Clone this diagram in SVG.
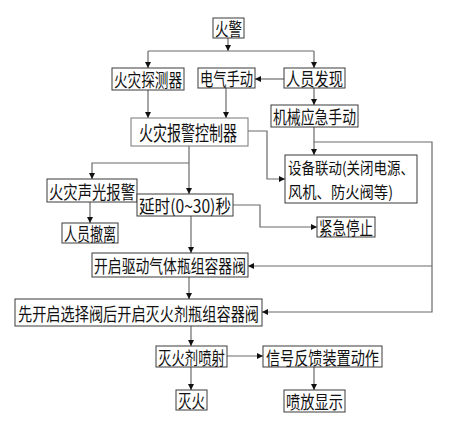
<svg xmlns="http://www.w3.org/2000/svg" width="463" height="426" viewBox="0 0 463 426">
<style>
.b{fill:#fff;stroke:#3a3a3a;stroke-width:1}
.g{fill:#fff;stroke:#777;stroke-width:1}
.t{font-family:"Noto Sans CJK SC","Noto Sans CJK JP",sans-serif;font-size:18px;fill:#111;dominant-baseline:central}
.s{font-size:16px}
.l{font-size:20px}
.c{fill:none;stroke:#6a6a6a;stroke-width:1.2}
</style>
<defs>
<marker id="a" markerUnits="userSpaceOnUse" markerWidth="8" markerHeight="8" refX="6" refY="3" orient="auto">
<path d="M0,0 L6,3 L0,6 Z" fill="#111"/>
</marker>
</defs>
<rect width="463" height="426" fill="#fff"/>
<g id="connectors">
<path class="c" d="M228,38 V51" marker-end="url(#a)"/>
<path class="c" d="M148,51 H314"/>
<path class="c" d="M148,51 V68" marker-end="url(#a)"/>
<path class="c" d="M314,51 V68" marker-end="url(#a)"/>
<path class="c" d="M284,79 H255" marker-end="url(#a)"/>
<path class="c" d="M314,88 V105" marker-end="url(#a)"/>
<path class="c" d="M148,90 V118" marker-end="url(#a)"/>
<path class="c" d="M226,88 V118" marker-end="url(#a)"/>
<path class="c" d="M248,131 H267 V179 H285" marker-end="url(#a)"/>
<path class="c" d="M314,127 V155" marker-end="url(#a)"/>
<path class="c" d="M314,142 H432 V312 H262" marker-end="url(#a)"/>
<path class="c" d="M432,266 H248" marker-end="url(#a)"/>
<path class="c" d="M189,146 V194" marker-end="url(#a)"/>
<path class="c" d="M189,163 H92 V179" marker-end="url(#a)"/>
<path class="c" d="M90,202 V223" marker-end="url(#a)"/>
<path class="c" d="M233,205 H260 V227 H317" marker-end="url(#a)"/>
<path class="c" d="M191,216 V253" marker-end="url(#a)"/>
<path class="c" d="M189,277 V299" marker-end="url(#a)"/>
<path class="c" d="M191,326 V346" marker-end="url(#a)"/>
<path class="c" d="M227,356 H263" marker-end="url(#a)"/>
<path class="c" d="M191,367 V390" marker-end="url(#a)"/>
<path class="c" d="M314,367 V390" marker-end="url(#a)"/>
</g>
<g id="n1"><rect class="b" x="213" y="18" width="31" height="20"/><text class="t" x="215" y="28" textLength="27" lengthAdjust="spacingAndGlyphs">火警</text></g>
<g id="n2"><rect class="b" x="112" y="68" width="72" height="22"/><text class="t" x="114" y="79" textLength="68" lengthAdjust="spacingAndGlyphs">火灾探测器</text></g>
<g id="n3"><rect class="b" x="198" y="68" width="57" height="20"/><text class="t" x="200" y="78" textLength="53" lengthAdjust="spacingAndGlyphs">电气手动</text></g>
<g id="n4"><rect class="b" x="284" y="68" width="61" height="20"/><text class="t" x="286" y="78" textLength="57" lengthAdjust="spacingAndGlyphs">人员发现</text></g>
<g id="n5"><rect class="b" x="271" y="105" width="87" height="22"/><text class="t" x="273" y="116" textLength="83" lengthAdjust="spacingAndGlyphs">机械应急手动</text></g>
<g id="n6"><rect class="g" x="131" y="118" width="117" height="28"/><text class="t l" x="139" y="132" textLength="98" lengthAdjust="spacingAndGlyphs">火灾报警控制器</text></g>
<g id="n7"><rect class="b" x="285" y="155" width="132" height="48"/><text class="t s" x="288" y="166.5" textLength="126" lengthAdjust="spacingAndGlyphs">设备联动(关闭电源、</text><text class="t s" x="288" y="191" textLength="105" lengthAdjust="spacingAndGlyphs">风机、防火阀等)</text></g>
<g id="n8"><rect class="b" x="47" y="179" width="90" height="23"/><text class="t" x="49" y="190.5" textLength="86" lengthAdjust="spacingAndGlyphs">火灾声光报警</text></g>
<g id="n9"><rect class="b" x="137" y="194" width="96" height="22"/><text class="t" x="139" y="205" textLength="92" lengthAdjust="spacingAndGlyphs">延时(0~30)秒</text></g>
<g id="n10"><rect class="b" x="317" y="217" width="58" height="20"/><text class="t" x="319" y="227" textLength="54" lengthAdjust="spacingAndGlyphs">紧急停止</text></g>
<g id="n11"><rect class="b" x="62" y="223" width="56" height="20"/><text class="t" x="64" y="233" textLength="52" lengthAdjust="spacingAndGlyphs">人员撤离</text></g>
<g id="n12"><rect class="b" x="92" y="253" width="156" height="24"/><text class="t" x="94" y="265" textLength="152" lengthAdjust="spacingAndGlyphs">开启驱动气体瓶组容器阀</text></g>
<g id="n13"><rect class="b" x="15" y="299" width="247" height="27"/><text class="t" x="18" y="312.5" textLength="241" lengthAdjust="spacingAndGlyphs">先开启选择阀后开启灭火剂瓶组容器阀</text></g>
<g id="n14"><rect class="b" x="156" y="346" width="71" height="21"/><text class="t" x="158" y="356.5" textLength="67" lengthAdjust="spacingAndGlyphs">灭火剂喷射</text></g>
<g id="n15"><rect class="b" x="263" y="346" width="119" height="21"/><text class="t" x="266" y="356.5" textLength="113" lengthAdjust="spacingAndGlyphs">信号反馈装置动作</text></g>
<g id="n16"><rect class="b" x="176" y="390" width="31" height="20"/><text class="t" x="178" y="400" textLength="27" lengthAdjust="spacingAndGlyphs">灭火</text></g>
<g id="n17"><rect class="b" x="284" y="390" width="61" height="22"/><text class="t" x="286" y="401" textLength="57" lengthAdjust="spacingAndGlyphs">喷放显示</text></g>
</svg>
